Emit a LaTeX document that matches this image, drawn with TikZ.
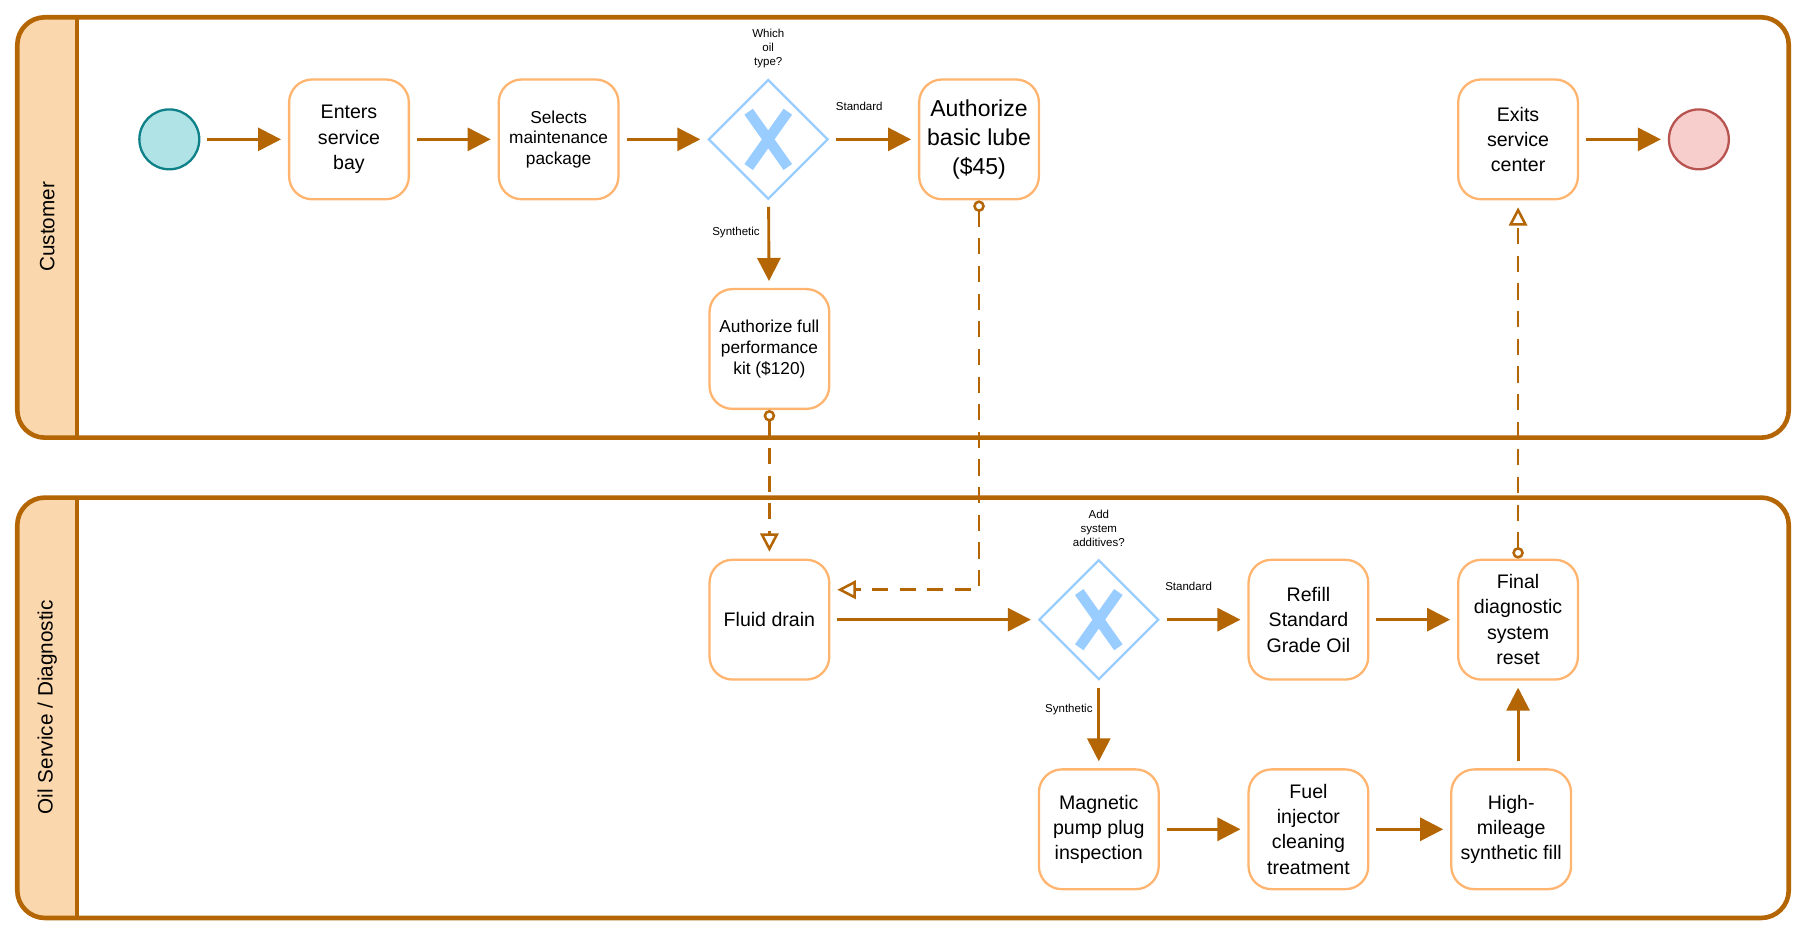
\documentclass[tikz,border=0pt]{standalone}
\usepackage{fontspec}
\setmainfont{Liberation Sans}
\usetikzlibrary{shapes.geometric,arrows.meta}
\definecolor{lane}{HTML}{B46504}
\definecolor{head}{HTML}{FAD7AC}
\definecolor{task}{HTML}{FFB570}
\definecolor{gw}{HTML}{99CCFF}
\definecolor{sst}{HTML}{0E8088}
\definecolor{sfi}{HTML}{B0E3E6}
\definecolor{est}{HTML}{B85450}
\definecolor{efi}{HTML}{F8CECC}
\begin{document}
\begin{tikzpicture}[x=0.5pt,y=-0.5pt,
  lanebox/.style={draw=lane,line width=2pt,rounded corners=12pt},
  task/.style={draw=task,line width=1pt,fill=white,rounded corners=10pt,minimum width=52pt,minimum height=52pt,inner sep=1pt,align=center,font=\fontsize{8.5}{11}\selectfont},
  gate/.style={diamond,draw=gw,line width=1pt,minimum width=52pt,minimum height=52pt,inner sep=0pt},
  flow/.style={draw=lane,line width=1.25pt,-{Triangle[length=10pt,width=10pt]},shorten <=3pt,shorten >=3pt},
  msg/.style={draw=lane,line width=1.1pt,dash pattern=on 7pt off 5pt,{Circle[open,length=5pt,width=5pt,fill=white]}-{Triangle[open,length=8pt,width=8pt,fill=white]},shorten >=3pt},
  lbl/.style={font=\fontsize{5}{6}\selectfont,align=center,inner sep=0pt},
  xmark/.style={draw=gw,line width=4.5pt}]
\useasboundingbox (0,0) rectangle (1568,812);
% lanes
\begin{scope}
\clip[rounded corners=12pt] (15,15) rectangle (1553,380);
\fill[head] (15,15) rectangle (67,380);
\end{scope}
\draw[lanebox] (15,15) rectangle (1553,380);
\draw[lane,line width=2pt] (67,15) -- (67,380);
\node[rotate=90,font=\fontsize{9}{11}\selectfont] (l1) at (41,197) {Customer};
\begin{scope}
\clip[rounded corners=12pt] (15,432) rectangle (1553,797);
\fill[head] (15,432) rectangle (67,797);
\end{scope}
\draw[lanebox] (15,432) rectangle (1553,797);
\draw[lane,line width=2pt] (67,432) -- (67,797);
\node[rotate=90,font=\fontsize{9}{11}\selectfont] (l2) at (41,614) {Oil Service / Diagnostic};
% nodes lane 1
\node[circle,draw=sst,fill=sfi,minimum size=26pt,inner sep=0pt,line width=1pt] (s) at (147,121) {};
\node[task] (a) at (303,121) {Enters\\service\\bay};
\node[task,font=\fontsize{7.5}{9}\selectfont] (b) at (485,121) {Selects\\maintenance\\package};
\node[gate] (g1) at (667,121) {};
\draw[xmark] (650,97) -- (684,145) (684,97) -- (650,145);
\node[task,font=\fontsize{10}{12.5}\selectfont] (c) at (850,121) {Authorize\\basic lube\\(\$45)};
\node[task] (e) at (1318,121) {Exits\\service\\center};
\node[circle,draw=est,fill=efi,minimum size=26pt,inner sep=0pt,line width=1pt] (end) at (1475,121) {};
\node[task,font=\fontsize{7.5}{9}\selectfont] (d) at (668,303) {Authorize full\\performance\\kit (\$120)};
% lane 2
\node[task] (f) at (668,538) {Fluid drain};
\node[gate] (g2) at (954,538) {};
\draw[xmark] (937,514) -- (971,562) (971,514) -- (937,562);
\node[task] (r) at (1136,538) {Refill\\Standard\\Grade Oil};
\node[task] (fd) at (1318,538) {Final\\diagnostic\\system\\reset};
\node[task] (m) at (954,720) {Magnetic\\pump plug\\inspection};
\node[task] (fu) at (1136,720) {Fuel\\injector\\cleaning\\treatment};
\node[task] (h) at (1312,720) {High-\\mileage\\synthetic fill};
% labels
\node[lbl] (q1) at (667,42) {Which\\oil\\type?};
\node[lbl] (q2) at (954,459) {Add\\system\\additives?};
\node[lbl] (t1) at (746,92) {Standard};
\node[lbl] (t2) at (639,202) {Synthetic};
\node[lbl] (t3) at (1032,509) {Standard};
\node[lbl] (t4) at (928,616) {Synthetic};
% flows
\draw[flow] (s) -- (a);
\draw[flow] (a) -- (b);
\draw[flow] (b) -- (g1);
\draw[flow] (g1) -- (c);
\draw[flow] (g1) -- (d);
\draw[flow] (e) -- (end);
\draw[flow] (f) -- (g2);
\draw[flow] (g2) -- (r);
\draw[flow] (r) -- (fd);
\draw[flow] (g2) -- (m);
\draw[flow] (m) -- (fu);
\draw[flow] (fu) -- (h);
\draw[flow] (h.north -| 1318,0) -- (fd.south);
% messages
\draw[msg] (d.south) -- (f.north);
\draw[msg] (c.south) -- (850,512) -- (f.east |- 0,512);
\draw[msg] (fd.north) -- (e.south);
\end{tikzpicture}
\end{document}
